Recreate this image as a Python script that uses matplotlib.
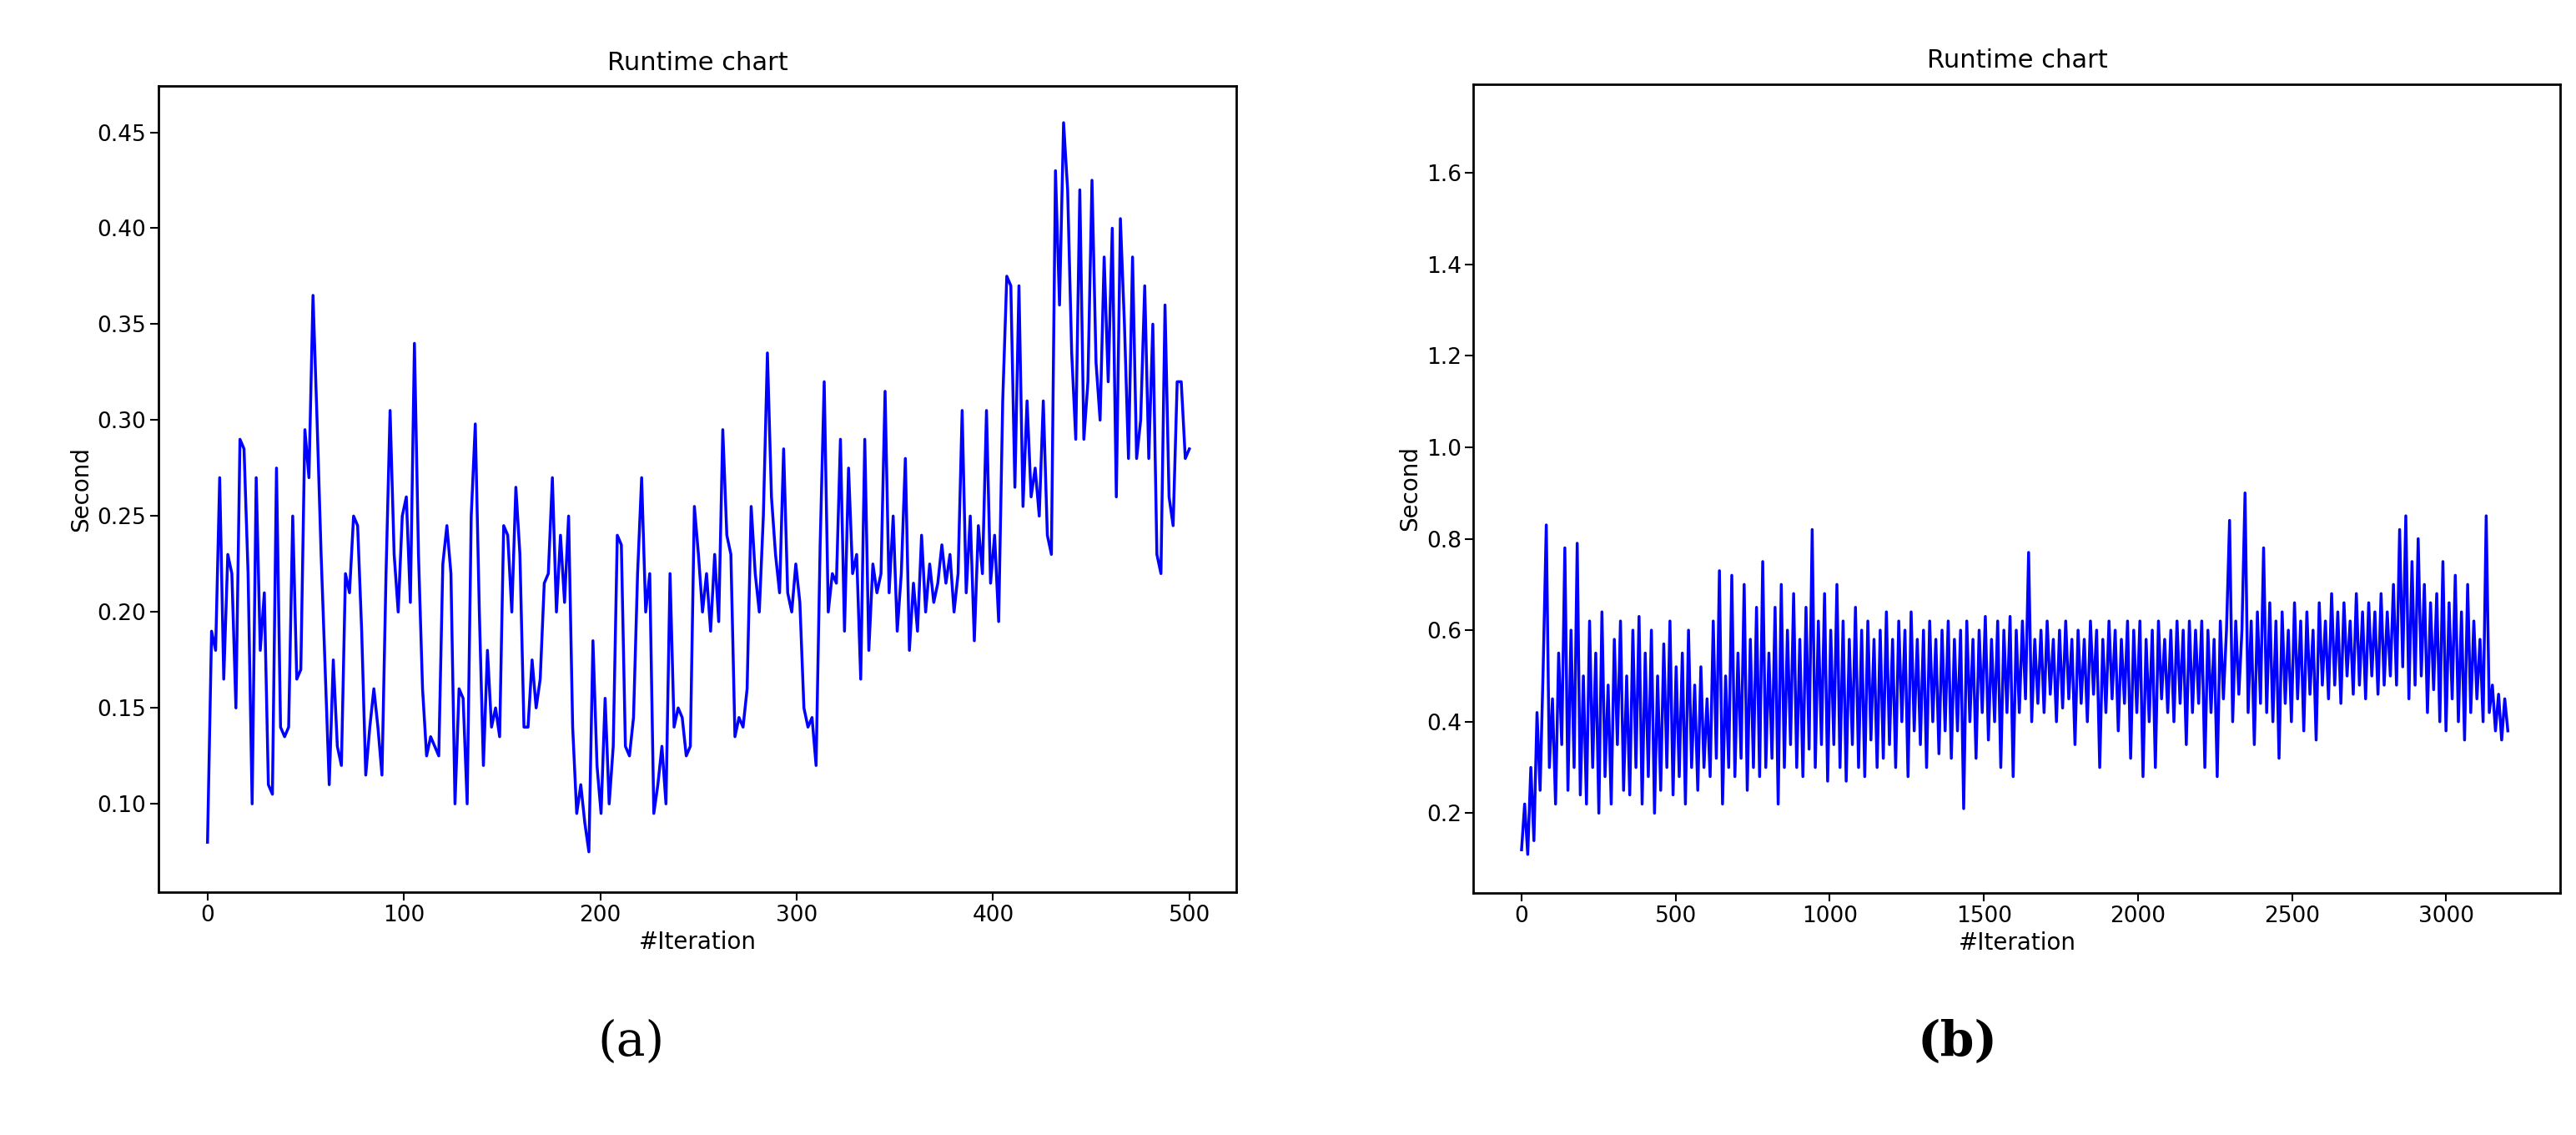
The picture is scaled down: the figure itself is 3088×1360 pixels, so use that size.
import numpy as np
import matplotlib.pyplot as plt

# panel (a): runtime per iteration, 500 iterations
runtime_a = [
    0.08, 0.19, 0.18, 0.27, 0.165, 0.23, 0.22, 0.15, 0.29, 0.285, 0.22, 0.10, 0.27, 0.18, 0.21,
    0.11, 0.105, 0.275, 0.14, 0.135, 0.14, 0.25, 0.165, 0.17, 0.295, 0.27, 0.365, 0.30, 0.23,
    0.17, 0.11, 0.175, 0.13, 0.12, 0.22, 0.21, 0.25, 0.245, 0.19, 0.115, 0.14, 0.16, 0.14,
    0.115, 0.22, 0.305, 0.23, 0.20, 0.25, 0.26, 0.205, 0.34, 0.23, 0.16, 0.125, 0.135, 0.13,
    0.125, 0.225, 0.245, 0.22, 0.10, 0.16, 0.155, 0.10, 0.25, 0.298, 0.20, 0.12, 0.18, 0.14,
    0.15, 0.135, 0.245, 0.24, 0.20, 0.265, 0.23, 0.14, 0.14, 0.175, 0.15, 0.165, 0.215, 0.22,
    0.27, 0.20, 0.24, 0.205, 0.25, 0.14, 0.095, 0.11, 0.09, 0.075, 0.185, 0.12, 0.095, 0.155,
    0.10, 0.13, 0.24, 0.235, 0.13, 0.125, 0.145, 0.22, 0.27, 0.20, 0.22, 0.095, 0.11, 0.13,
    0.10, 0.22, 0.14, 0.15, 0.145, 0.125, 0.13, 0.255, 0.23, 0.20, 0.22, 0.19, 0.23, 0.195,
    0.295, 0.24, 0.23, 0.135, 0.145, 0.14, 0.16, 0.255, 0.22, 0.20, 0.25, 0.335, 0.26, 0.23,
    0.21, 0.285, 0.21, 0.20, 0.225, 0.205, 0.15, 0.14, 0.145, 0.12, 0.235, 0.32, 0.20, 0.22,
    0.215, 0.29, 0.19, 0.275, 0.22, 0.23, 0.165, 0.29, 0.18, 0.225, 0.21, 0.22, 0.315, 0.21,
    0.25, 0.19, 0.22, 0.28, 0.18, 0.215, 0.19, 0.24, 0.20, 0.225, 0.205, 0.215, 0.235, 0.215,
    0.23, 0.20, 0.22, 0.305, 0.21, 0.25, 0.185, 0.245, 0.22, 0.305, 0.215, 0.24, 0.195, 0.31,
    0.375, 0.37, 0.265, 0.37, 0.255, 0.31, 0.26, 0.275, 0.25, 0.31, 0.24, 0.23, 0.43, 0.36,
    0.455, 0.42, 0.335, 0.29, 0.42, 0.29, 0.32, 0.425, 0.33, 0.30, 0.385, 0.32, 0.40, 0.26,
    0.405, 0.35, 0.28, 0.385, 0.28, 0.30, 0.37, 0.28, 0.35, 0.23, 0.22, 0.36, 0.26, 0.245,
    0.32, 0.32, 0.28, 0.285,
]

# panel (b): runtime per iteration, ~3200 iterations (sampled every 10)
runtime_b = [
    0.12, 0.22, 0.11, 0.30, 0.14, 0.42, 0.25, 0.52, 0.83, 0.30, 0.45, 0.22, 0.55, 0.35, 0.78, 0.25, 0.60, 0.30, 0.79, 0.24,
    0.50, 0.22, 0.62, 0.30, 0.55, 0.20, 0.64, 0.28, 0.48, 0.22, 0.58, 0.35, 0.62, 0.25, 0.50, 0.24, 0.60, 0.30, 0.63, 0.22,
    0.55, 0.28, 0.60, 0.20, 0.50, 0.25, 0.57, 0.30, 0.62, 0.24, 0.52, 0.28, 0.55, 0.22, 0.60, 0.30, 0.48, 0.25, 0.52, 0.30,
    0.45, 0.28, 0.62, 0.32, 0.73, 0.22, 0.50, 0.30, 0.72, 0.28, 0.55, 0.32, 0.70, 0.25, 0.58, 0.30, 0.65, 0.28, 0.75, 0.30,
    0.55, 0.32, 0.65, 0.22, 0.70, 0.30, 0.60, 0.35, 0.68, 0.30, 0.58, 0.28, 0.65, 0.34, 0.82, 0.30, 0.62, 0.35, 0.68, 0.27,
    0.60, 0.35, 0.70, 0.30, 0.62, 0.27, 0.58, 0.35, 0.65, 0.30, 0.60, 0.28, 0.62, 0.36, 0.58, 0.30, 0.60, 0.32, 0.64, 0.35,
    0.58, 0.30, 0.62, 0.40, 0.60, 0.28, 0.64, 0.38, 0.58, 0.35, 0.60, 0.30, 0.62, 0.40, 0.58, 0.33, 0.60, 0.38, 0.62, 0.32,
    0.58, 0.38, 0.60, 0.21, 0.62, 0.40, 0.58, 0.32, 0.60, 0.42, 0.63, 0.36, 0.58, 0.40, 0.62, 0.30, 0.60, 0.42, 0.63, 0.28,
    0.60, 0.42, 0.62, 0.45, 0.77, 0.40, 0.58, 0.44, 0.60, 0.42, 0.62, 0.46, 0.58, 0.40, 0.60, 0.43, 0.62, 0.45, 0.58, 0.35,
    0.60, 0.44, 0.58, 0.40, 0.62, 0.46, 0.60, 0.30, 0.58, 0.42, 0.62, 0.45, 0.60, 0.38, 0.58, 0.44, 0.62, 0.32, 0.60, 0.42,
    0.62, 0.28, 0.58, 0.40, 0.60, 0.30, 0.62, 0.45, 0.58, 0.42, 0.60, 0.40, 0.62, 0.44, 0.60, 0.35, 0.62, 0.42, 0.60, 0.44,
    0.62, 0.30, 0.60, 0.42, 0.58, 0.28, 0.62, 0.45, 0.60, 0.84, 0.40, 0.62, 0.46, 0.60, 0.90, 0.42, 0.62, 0.35, 0.64, 0.44,
    0.78, 0.42, 0.66, 0.40, 0.62, 0.32, 0.64, 0.44, 0.60, 0.40, 0.66, 0.45, 0.62, 0.38, 0.64, 0.46, 0.60, 0.36, 0.66, 0.48,
    0.62, 0.45, 0.68, 0.48, 0.64, 0.44, 0.66, 0.50, 0.62, 0.46, 0.68, 0.48, 0.64, 0.45, 0.66, 0.50, 0.64, 0.46, 0.68, 0.48,
    0.64, 0.50, 0.70, 0.48, 0.82, 0.52, 0.85, 0.45, 0.75, 0.48, 0.80, 0.50, 0.70, 0.42, 0.66, 0.47, 0.68, 0.40, 0.75, 0.38,
    0.66, 0.45, 0.72, 0.40, 0.64, 0.36, 0.70, 0.42, 0.62, 0.45, 0.58, 0.40, 0.85, 0.42, 0.48, 0.38, 0.46, 0.36, 0.45, 0.38,
]

iters_a = np.linspace(0, 500, len(runtime_a))
iters_b = np.linspace(0, 3200, len(runtime_b))

fig = plt.figure(figsize=(30.88, 13.6), dpi=100)

ax1 = fig.add_axes([0.0615, 0.214, 0.4185, 0.71])
ax1.plot(iters_a, runtime_a, color="blue", linewidth=2.5)
ax1.set_xlim(-25, 524)
ax1.set_ylim(0.054, 0.474)
ax1.set_xticks([0, 100, 200, 300, 400, 500])
ax1.set_yticks([0.10, 0.15, 0.20, 0.25, 0.30, 0.35, 0.40, 0.45])
ax1.set_title("Runtime chart", fontsize=22, pad=14)
ax1.set_xlabel("#Iteration", fontsize=20)
ax1.set_ylabel("Second", fontsize=20)
ax1.tick_params(labelsize=19, length=7, width=1.5)

ax2 = fig.add_axes([0.572, 0.213, 0.422, 0.713])
ax2.plot(iters_b, runtime_b, color="blue", linewidth=2.5)
ax2.set_xlim(-156, 3371)
ax2.set_ylim(0.025, 1.794)
ax2.set_xticks([0, 500, 1000, 1500, 2000, 2500, 3000])
ax2.set_yticks([0.2, 0.4, 0.6, 0.8, 1.0, 1.2, 1.4, 1.6])
ax2.set_title("Runtime chart", fontsize=22, pad=14)
ax2.set_xlabel("#Iteration", fontsize=20)
ax2.set_ylabel("Second", fontsize=20)
ax2.tick_params(labelsize=19, length=7, width=1.5)

for ax in (ax1, ax2):
    for sp in ax.spines.values():
        sp.set_linewidth(2)

fig.text(0.245, 0.07, "(a)", fontsize=42, family="DejaVu Serif", ha="center")
fig.text(0.76, 0.07, "(b)", fontsize=42, family="DejaVu Serif", ha="center", fontweight="bold")

fig.savefig("out.png")
